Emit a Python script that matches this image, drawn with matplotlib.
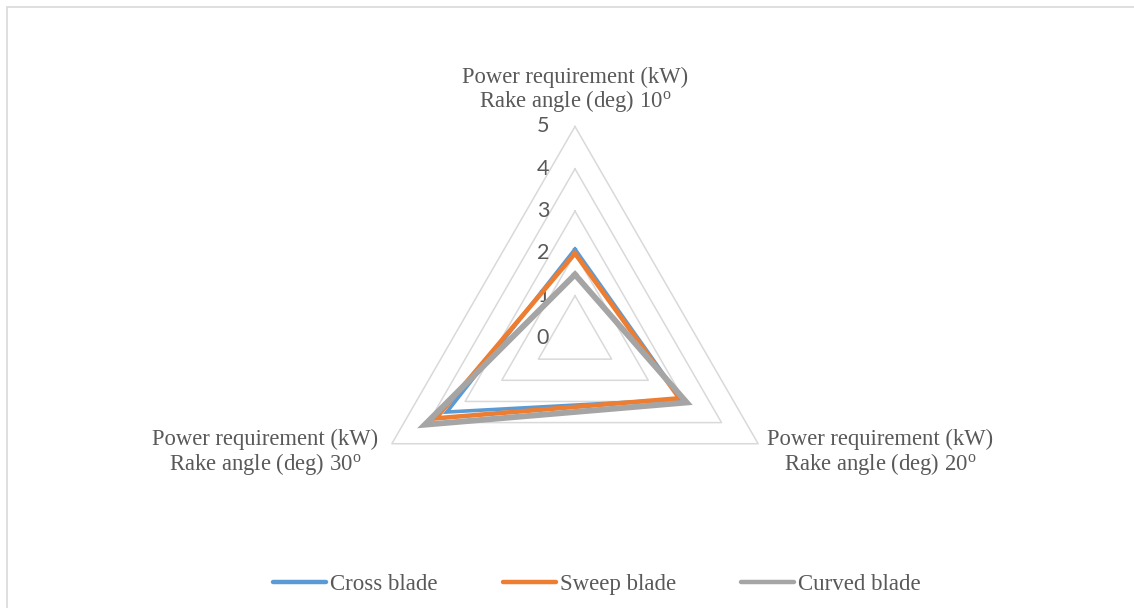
import numpy as np
import matplotlib
matplotlib.use("Agg")
import matplotlib.pyplot as plt
from matplotlib.lines import Line2D

plt.rcParams['mathtext.fontset'] = 'custom'
plt.rcParams['mathtext.rm'] = 'Liberation Serif'
plt.rcParams['mathtext.it'] = 'Liberation Serif'

# ---- data ----
categories = [
    "Power requirement (kW)\nRake angle (deg) 10$^{\\rm o}$",
    "Power requirement (kW)\nRake angle (deg) 20$^{\\rm o}$",
    "Power requirement (kW)\nRake angle (deg) 30$^{\\rm o}$",
]
series_names = ["Cross blade", "Sweep blade", "Curved blade"]
cross = [2.1, 2.9, 3.5]
sweep = [2.0, 2.85, 3.8]
curved = [1.5, 3.05, 4.1]
ticks = [0, 1, 2, 3, 4, 5]

colors = ["#5B9BD5", "#ED7D31", "#A5A5A5"]
widths = [2.6, 3.3, 4.2]

W, H = 1134, 608
fig = plt.figure(figsize=(W / 100, H / 100), dpi=100)

# frame
fig.add_artist(plt.Rectangle((7 / W, -0.1), 1.2, (H - 7) / H + 0.1, transform=fig.transFigure,
                             fill=False, edgecolor="#d9d9d9", linewidth=1.2))

# axes: centre at (575, 338) from top, 42.3 px per unit
ppu = 42.3
cx, cy = 575, H - 338
left_px, right_px = cx - 300, cx + 300
bot_px, top_px = cy - 170, cy + 230
ax = fig.add_axes([left_px / W, bot_px / H, (right_px - left_px) / W, (top_px - bot_px) / H])
ax.set_xlim(-300 / ppu, 300 / ppu)
ax.set_ylim(-170 / ppu, 230 / ppu)
ax.axis("off")

n = len(categories)
theta = np.arange(n) * 2 * np.pi / n  # clockwise from top


def to_xy(vals):
    v = np.asarray(vals, dtype=float)
    x = v * np.sin(theta)
    y = v * np.cos(theta)
    return np.append(x, x[0]), np.append(y, y[0])


# grid triangles
for t in ticks[1:]:
    gx, gy = to_xy([t] * n)
    ax.plot(gx, gy, color="#d9d9d9", lw=1.1, zorder=1, clip_on=False)

# tick labels
for t in ticks:
    ax.annotate(str(t), xy=(0, t), xytext=(-32, 0), textcoords="offset pixels",
                ha="center", va="center", fontsize=15.5, family="Lato",
                color="#595959", zorder=2, annotation_clip=False)

# series
handles = []
for name, vals, c, w in zip(series_names, [cross, sweep, curved], colors, widths):
    x, y = to_xy(vals)
    ax.plot(x, y, color=c, lw=w, solid_joinstyle="miter", zorder=3, clip_on=False)
    handles.append(Line2D([], [], color=c, lw=3.2, solid_capstyle="round"))

# category labels
lab_kw = dict(fontsize=16.3, family="Liberation Serif", color="#595959",
              linespacing=1.02, annotation_clip=False, textcoords="offset pixels")
ax.annotate(categories[0], xy=(0, ticks[-1]), xytext=(0, 12),
            ha="center", va="bottom", multialignment="center", **lab_kw)
x5, y5 = to_xy([ticks[-1]] * n)
ax.annotate(categories[1], xy=(x5[1], y5[1]), xytext=(9, -9),
            ha="left", va="center", multialignment="center", **lab_kw)
ax.annotate(categories[2], xy=(x5[2], y5[2]), xytext=(-14, -9),
            ha="right", va="center", multialignment="center", **lab_kw)

leg = fig.legend(handles, series_names, loc="center", bbox_to_anchor=(597 / W, (H - 584) / H),
                 ncol=3, frameon=False, handlelength=2.31, handletextpad=0.18,
                 columnspacing=2.84, prop={"family": "Liberation Serif", "size": 16.5})
for t in leg.get_texts():
    t.set_color("#595959")

fig.savefig("out.png", dpi=100)
